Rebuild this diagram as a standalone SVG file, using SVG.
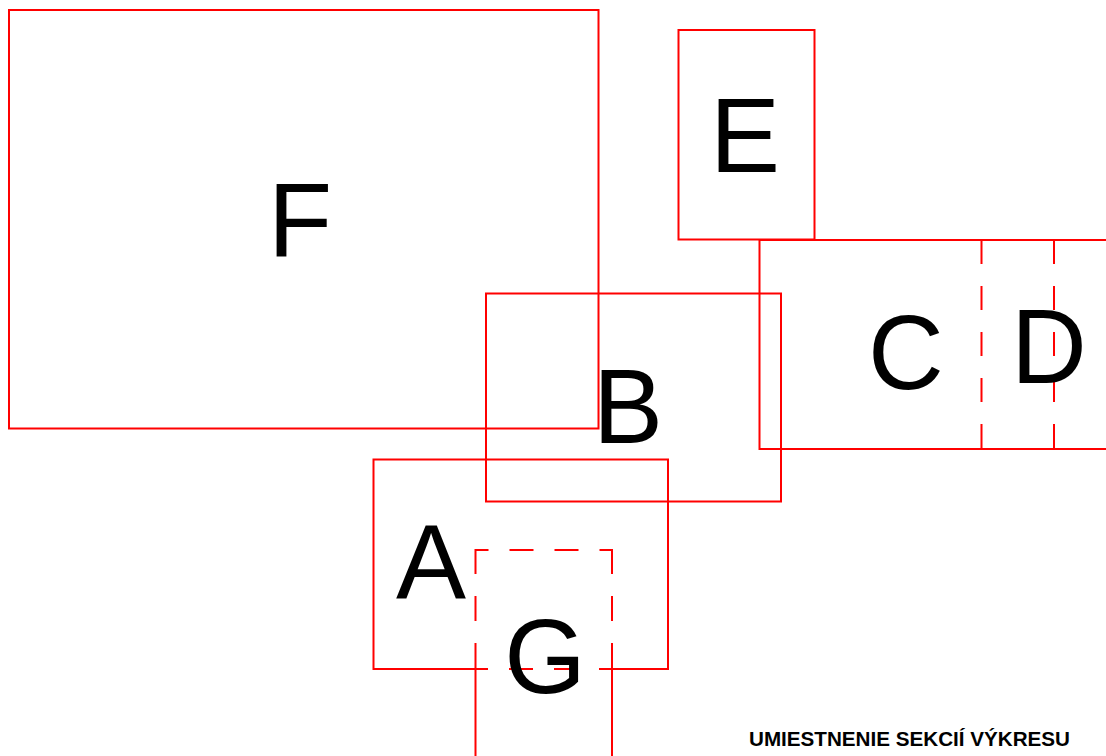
<svg xmlns="http://www.w3.org/2000/svg" width="1106" height="756" viewBox="0 0 1106 756">
<style>
.ln{fill:none;stroke:#ff0000;stroke-width:2}
.dh{fill:none;stroke:#ff0000;stroke-width:2;stroke-dasharray:24 22}
.dh2{fill:none;stroke:#ff0000;stroke-width:2;stroke-dasharray:24 21;stroke-dashoffset:11}
.lb{font-family:"Liberation Sans",Arial,sans-serif;font-size:105px;fill:#000;text-anchor:middle}
.tt{font-family:"Liberation Sans",Arial,sans-serif;font-size:20.5px;font-weight:bold;fill:#000}
</style>
<rect width="1106" height="756" fill="#fff"/>
<g id="F">
<rect class="ln" x="9" y="10" width="589.5" height="418.5"/>
<text class="lb" x="300" y="257">F</text>
</g>
<g id="E">
<rect class="ln" x="678.5" y="30" width="136" height="209.5"/>
<text class="lb" x="745" y="172">E</text>
</g>
<g id="B">
<rect class="ln" x="486" y="293.5" width="295" height="208"/>
<text class="lb" x="628" y="443">B</text>
</g>
<g id="C">
<path class="ln" d="M1110,240 H759.5 V449 H1110"/>
<text class="lb" x="906" y="389">C</text>
</g>
<g id="D">
<path class="dh" d="M981.5,240 V449 M1054,240 V449"/>
<text class="lb" x="1049" y="383">D</text>
</g>
<g id="A">
<path class="ln" d="M475,669 H373.5 V459.5 H668 V669 H612"/>
<path class="dh2" d="M475,669 H612"/>
<text class="lb" x="431" y="598">A</text>
</g>
<g id="G">
<path class="dh2" d="M475.5,550 H612"/>
<path class="ln" style="stroke-dasharray:25 22" d="M475.5,549 V669 M612,549 V669"/>
<path class="ln" d="M475.5,669 V760 M612,669 V760"/>
<text class="lb" x="545" y="693">G</text>
</g>
<g id="connectors"></g>
<text class="tt" x="749" y="746" textLength="321" lengthAdjust="spacingAndGlyphs">UMIESTNENIE SEKCIÍ VÝKRESU</text>
</svg>
